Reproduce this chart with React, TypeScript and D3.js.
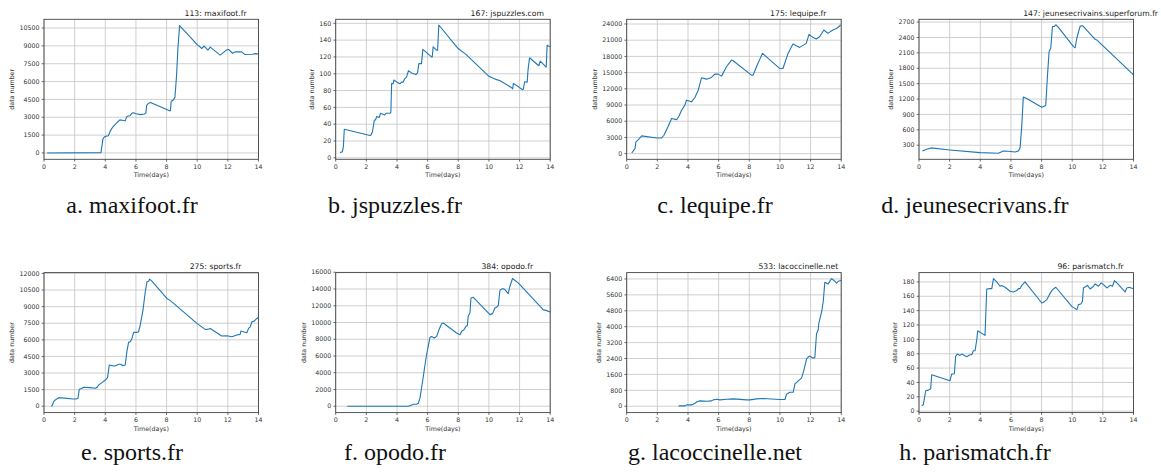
import React from 'react';
import * as d3 from 'd3';

type P = [number, number];

const maxifoot: P[] = [
  [0.2, 0], [3.72, 30], [3.85, 1200], [3.95, 1350], [4.1, 1420], [4.2, 1450], [4.35, 1900], [4.5, 2200],
  [4.65, 2400], [4.8, 2600], [4.95, 2780], [5.1, 2750], [5.3, 2700], [5.4, 3050], [5.5, 3100], [5.6, 3120],
  [5.75, 3350], [5.85, 3380], [6.0, 3300], [6.3, 3220], [6.55, 3280], [6.65, 3350], [6.7, 4000], [6.8, 4150],
  [6.95, 4250], [8.2, 3550], [8.25, 3550], [8.3, 4350], [8.45, 4450], [8.55, 4700], [8.65, 6500], [8.75, 9000],
  [8.85, 10700], [10.0, 9100], [10.3, 8780], [10.45, 8980], [10.7, 8640], [10.85, 8900], [11.5, 8220],
  [11.9, 8650], [12.05, 8700], [12.3, 8380], [12.5, 8500], [12.9, 8500], [13.1, 8280], [13.6, 8300],
  [13.8, 8350], [14.0, 8320],
];

const jspuzzles: P[] = [
  [0.28, 6.3], [0.43, 7], [0.5, 13], [0.56, 34], [2.24, 26.6], [2.3, 27], [2.4, 31], [2.52, 45], [2.6, 45],
  [2.67, 49], [2.84, 48], [2.93, 53], [3.2, 51], [3.3, 53], [3.54, 53], [3.6, 54], [3.65, 88.5], [3.75, 88],
  [3.8, 92.5], [4.0, 90], [4.19, 88], [4.3, 90], [4.4, 90], [4.5, 94], [4.62, 96], [4.75, 103.6], [5.0, 100.5],
  [5.23, 99], [5.34, 101], [5.43, 112], [5.6, 112], [5.69, 129], [6.25, 120], [6.3, 120], [6.36, 132],
  [6.58, 128], [6.65, 128], [6.73, 158], [7.99, 130], [8.5, 123], [10.0, 97], [10.5, 93], [10.7, 92],
  [11.46, 83.7], [11.55, 82], [11.6, 88.5], [12.2, 81], [12.25, 82], [12.33, 90.5], [12.5, 90], [12.55, 104],
  [12.65, 119], [13.26, 109.5], [13.35, 115], [13.74, 108], [13.8, 134], [14, 132],
];

const lequipe: P[] = [
  [0.33, 120], [0.54, 930], [0.6, 2160], [0.76, 2600], [0.98, 3280], [1.95, 2900], [2.28, 2900], [2.43, 3400],
  [2.71, 5070], [2.93, 6500], [3.26, 6300], [3.41, 6930], [3.58, 8040], [3.8, 8970], [3.9, 9900], [4.23, 9590],
  [4.45, 10390], [4.67, 11750], [4.88, 14040], [5.21, 13790], [5.53, 14100], [5.75, 14720], [5.97, 14720],
  [6.19, 14350], [6.51, 16080], [6.84, 17320], [6.95, 17200], [8.14, 14540], [8.25, 14540], [8.47, 16080],
  [8.86, 18560], [9.98, 15770], [10.2, 15770], [10.53, 18560], [10.85, 20290], [11.29, 19670], [11.72, 20410],
  [11.9, 22080], [12.15, 21530], [12.37, 21220], [12.59, 21650], [12.87, 22890], [13.13, 22270], [13.46, 22890],
  [13.72, 23200], [13.96, 23820],
];

const jeunesecrivains: P[] = [
  [0.22, 189], [0.5, 221], [0.78, 248], [2.02, 208], [3.98, 156], [5.18, 143], [5.4, 175], [5.5, 189],
  [5.83, 182], [6.27, 169], [6.49, 189], [6.6, 254], [6.7, 648], [6.81, 1238], [7.03, 1212], [8.01, 1042],
  [8.16, 1062], [8.27, 1068], [8.38, 1632], [8.49, 2123], [8.6, 2189], [8.71, 2615], [8.84, 2615], [8.93, 2648],
  [9.1, 2595], [10.08, 2221], [10.19, 2201], [10.3, 2385], [10.4, 2497], [10.52, 2621], [10.69, 2628],
  [11.5, 2365], [11.6, 2352], [14, 1670],
];

const sports: P[] = [
  [0.46, 0], [0.54, 60], [0.63, 420], [0.74, 570], [0.96, 780], [1.93, 660], [2.1, 660], [2.22, 720],
  [2.3, 1530], [2.48, 1620], [2.59, 1710], [3.02, 1680], [3.35, 1620], [3.46, 1710], [3.57, 1920], [3.78, 2130],
  [4.0, 2370], [4.15, 2590], [4.26, 3730], [4.43, 3670], [4.65, 3640], [4.87, 3790], [5.02, 3790], [5.13, 3670],
  [5.3, 3730], [5.41, 4930], [5.52, 5770], [5.63, 5830], [5.74, 6130], [5.85, 6670], [6.07, 6670], [6.17, 6730],
  [6.28, 7330], [6.46, 8690], [6.61, 10340], [6.72, 11240], [6.83, 11300], [6.89, 11480], [7.04, 11300],
  [8.02, 9740], [8.13, 9650], [8.46, 9290], [9.98, 7490], [10.52, 6940], [10.74, 6970], [10.85, 7030],
  [11.6, 6340], [11.93, 6370], [12.26, 6280], [12.59, 6430], [12.8, 6490], [12.85, 6790], [13.02, 6730],
  [13.24, 6640], [13.35, 7030], [13.46, 7180], [13.57, 7630], [13.72, 7690], [13.89, 7930], [14, 8050],
];

const opodo: P[] = [
  [0.76, 0], [4.74, 0], [4.96, 160], [5.07, 240], [5.28, 240], [5.39, 360], [5.5, 960], [5.67, 2950],
  [5.83, 4950], [5.93, 6150], [6.04, 7150], [6.15, 8220], [6.26, 8340], [6.43, 8140], [6.59, 8340], [6.74, 9140],
  [6.91, 9860], [7.02, 9940], [7.89, 8740], [8.11, 8540], [8.22, 8940], [8.37, 9140], [8.5, 9540], [8.59, 9620],
  [8.65, 10740], [8.76, 11140], [8.83, 12930], [8.98, 13010], [10.07, 10940], [10.24, 11060], [10.39, 11740],
  [10.5, 11820], [10.61, 12020], [10.72, 13850], [10.89, 14050], [11.04, 13930], [11.26, 13450], [11.37, 14330],
  [11.54, 15250], [11.91, 14730], [13.54, 11540], [13.76, 11420], [14, 11260],
];

const lacoccinelle: P[] = [
  [3.39, 17], [3.8, 17], [3.91, 67], [4.24, 67], [4.46, 151], [4.61, 235], [4.78, 269], [5.22, 252],
  [5.54, 269], [5.65, 319], [5.87, 353], [6.09, 319], [6.52, 353], [6.96, 370], [7.83, 319], [8.04, 319],
  [8.48, 370], [8.91, 386], [10.0, 336], [10.33, 336], [10.43, 605], [10.65, 706], [10.87, 706], [10.98, 1126],
  [11.2, 1277], [11.41, 1412], [11.57, 1832], [11.74, 2387], [11.91, 2521], [12.17, 2420], [12.28, 2454],
  [12.39, 3647], [12.5, 3849], [12.54, 4185], [12.72, 4740], [12.83, 5278], [12.93, 6235], [13.15, 6151],
  [13.37, 6420], [13.59, 6286], [13.7, 6185], [13.8, 6286], [14, 6319],
];

const parismatch: P[] = [
  [0.17, 7.4], [0.28, 8.8], [0.44, 28.4], [0.61, 29.3], [0.76, 31.2], [0.83, 50.7], [2.02, 42.3], [2.13, 51.6],
  [2.31, 52.1], [2.39, 76.3], [2.5, 79.5], [2.68, 77.7], [2.79, 79.5], [3.0, 77.2], [3.11, 75.8], [3.33, 78.6],
  [3.44, 78.6], [3.55, 84.2], [3.66, 84.2], [3.77, 99.5], [3.83, 112], [4.31, 105.6], [4.42, 170.2],
  [4.64, 170.7], [4.75, 170.7], [4.86, 184.7], [5.07, 180], [5.29, 174], [5.4, 175], [5.62, 172.6], [5.94, 167],
  [6.16, 166], [6.38, 168], [6.49, 170.7], [6.6, 170.7], [6.71, 175.3], [6.86, 178.6], [6.92, 180],
  [8.01, 150.7], [8.12, 151.6], [8.34, 155.3], [8.51, 162.3], [8.67, 167.9], [8.77, 170.2], [8.93, 172.6],
  [9.97, 146], [10.3, 141.4], [10.41, 148.4], [10.56, 149.3], [10.67, 153], [10.73, 171.6], [10.91, 174],
  [11.0, 175.3], [11.17, 170.2], [11.39, 174], [11.5, 177.2], [11.71, 174], [11.89, 178.6], [12.04, 176.3],
  [12.26, 171.6], [12.48, 175.3], [12.63, 174], [12.76, 181.9], [13.02, 176.3], [13.45, 166], [13.56, 171.6],
  [13.74, 172.6], [13.85, 171.6], [14, 170.7],
];

const series = [maxifoot, jspuzzles, lequipe, jeunesecrivains, sports, opodo, lacoccinelle, parismatch];

const titles = [
  '113: maxifoot.fr', '167: jspuzzles.com', '175: lequipe.fr', '147: jeunesecrivains.superforum.fr',
  '275: sports.fr', '384: opodo.fr', '533: lacoccinelle.net', '96: parismatch.fr',
];

const captions = [
  'a. maxifoot.fr', 'b. jspuzzles.fr', 'c. lequipe.fr', 'd. jeunesecrivans.fr',
  'e. sports.fr', 'f. opodo.fr', 'g. lacoccinelle.net', 'h. parismatch.fr',
];

const xTicks = [0, 2, 4, 6, 8, 10, 12, 14];

const yTicksA = [0, 1500, 3000, 4500, 6000, 7500, 9000, 10500];
const yTicksB = [0, 20, 40, 60, 80, 100, 120, 140, 160];
const yTicksC = [0, 3000, 6000, 9000, 12000, 15000, 18000, 21000, 24000];
const yTicksD = [300, 600, 900, 1200, 1500, 1800, 2100, 2400, 2700];
const yTicksE = [0, 1500, 3000, 4500, 6000, 7500, 9000, 10500, 12000];
const yTicksF = [0, 2000, 4000, 6000, 8000, 10000, 12000, 14000, 16000];
const yTicksG = [0, 800, 1600, 2400, 3200, 4000, 4800, 5600, 6400];
const yTicksH = [0, 20, 40, 60, 80, 100, 120, 140, 160, 180];
const yTicks = [yTicksA, yTicksB, yTicksC, yTicksD, yTicksE, yTicksF, yTicksG, yTicksH];

const yDomains: [number, number][] = [
  [-535, 11235], [-1.8, 164.8], [-1050, 24870], [26, 2754],
  [-575, 12075], [-760, 15960], [-320, 6720], [-2, 193],
];

// layout
const colLefts = [44, 335.7, 626.7, 919];
const rowTops = [19.3, 272.6];
const PW = 214.5;
const PH = 140;
const capCenters = [132, 395, 715, 975];
const capBaselines = [213, 460];

const TICK_FONT = 6.3;
const FONT = 'DejaVu Sans, sans-serif';

function Panel({ i }: { i: number }) {
  const left = colLefts[i % 4];
  const top = rowTops[Math.floor(i / 4)];
  const x = d3.scaleLinear().domain([0, 14]).range([left, left + PW]);
  const y = d3.scaleLinear().domain(yDomains[i]).range([top + PH, top]);
  const line = d3.line<P>().x(d => x(d[0])).y(d => y(d[1]));
  const ticks = yTicks[i];
  const maxLen = d3.max(ticks, t => String(t).length) || 1;
  const labelW = maxLen * 0.636 * TICK_FONT;
  const ylabX = left - labelW - 9.5;
  return (
    <g>
      {xTicks.map(t => (
        <line key={'gx' + t} x1={x(t)} x2={x(t)} y1={top} y2={top + PH} stroke="#c4c4c4" strokeWidth={0.8} />
      ))}
      {ticks.map(t => (
        <line key={'gy' + t} x1={left} x2={left + PW} y1={y(t)} y2={y(t)} stroke="#c4c4c4" strokeWidth={0.8} />
      ))}
      <path d={line(series[i]) || ''} fill="none" stroke="#1f77b4" strokeWidth={1.1} strokeLinejoin="round" />
      <rect x={left} y={top} width={PW} height={PH} fill="none" stroke="#444" strokeWidth={0.9} />
      {xTicks.map(t => (
        <g key={'tx' + t}>
          <line x1={x(t)} x2={x(t)} y1={top + PH} y2={top + PH + 2.3} stroke="#444" strokeWidth={0.8} />
          <text x={x(t)} y={top + PH + 9.3} textAnchor="middle" fontSize={TICK_FONT} fontFamily={FONT} fill="#333">{t}</text>
        </g>
      ))}
      {ticks.map(t => (
        <g key={'ty' + t}>
          <line x1={left - 2.3} x2={left} y1={y(t)} y2={y(t)} stroke="#444" strokeWidth={0.8} />
          <text x={left - 4.4} y={y(t) + 2.2} textAnchor="end" fontSize={TICK_FONT} fontFamily={FONT} fill="#333">{t}</text>
        </g>
      ))}
      <text x={left + PW / 2} y={top + PH + 18} textAnchor="middle" fontSize={TICK_FONT} fontFamily={FONT} fill="#333">Time(days)</text>
      <text transform={`translate(${ylabX},${top + PH / 2}) rotate(-90)`} textAnchor="middle" fontSize={TICK_FONT} fontFamily={FONT} fill="#333">data number</text>
      <text x={left + PW * 0.8} y={top - 3.3} textAnchor="middle" fontSize={7.7} fontFamily={FONT} fill="#222">{titles[i]}</text>
      <text x={capCenters[i % 4]} y={capBaselines[Math.floor(i / 4)]} textAnchor="middle" fontSize={24} fontFamily="Liberation Serif, serif" fill="#111">{captions[i]}</text>
    </g>
  );
}

export default function App() {
  return (
    <svg width={1161} height={472} style={{ position: 'absolute', left: 0, top: 0, background: '#fff' }}>
      <rect x={0} y={0} width={1161} height={472} fill="#fff" />
      {series.map((_, i) => <Panel key={i} i={i} />)}
    </svg>
  );
}
